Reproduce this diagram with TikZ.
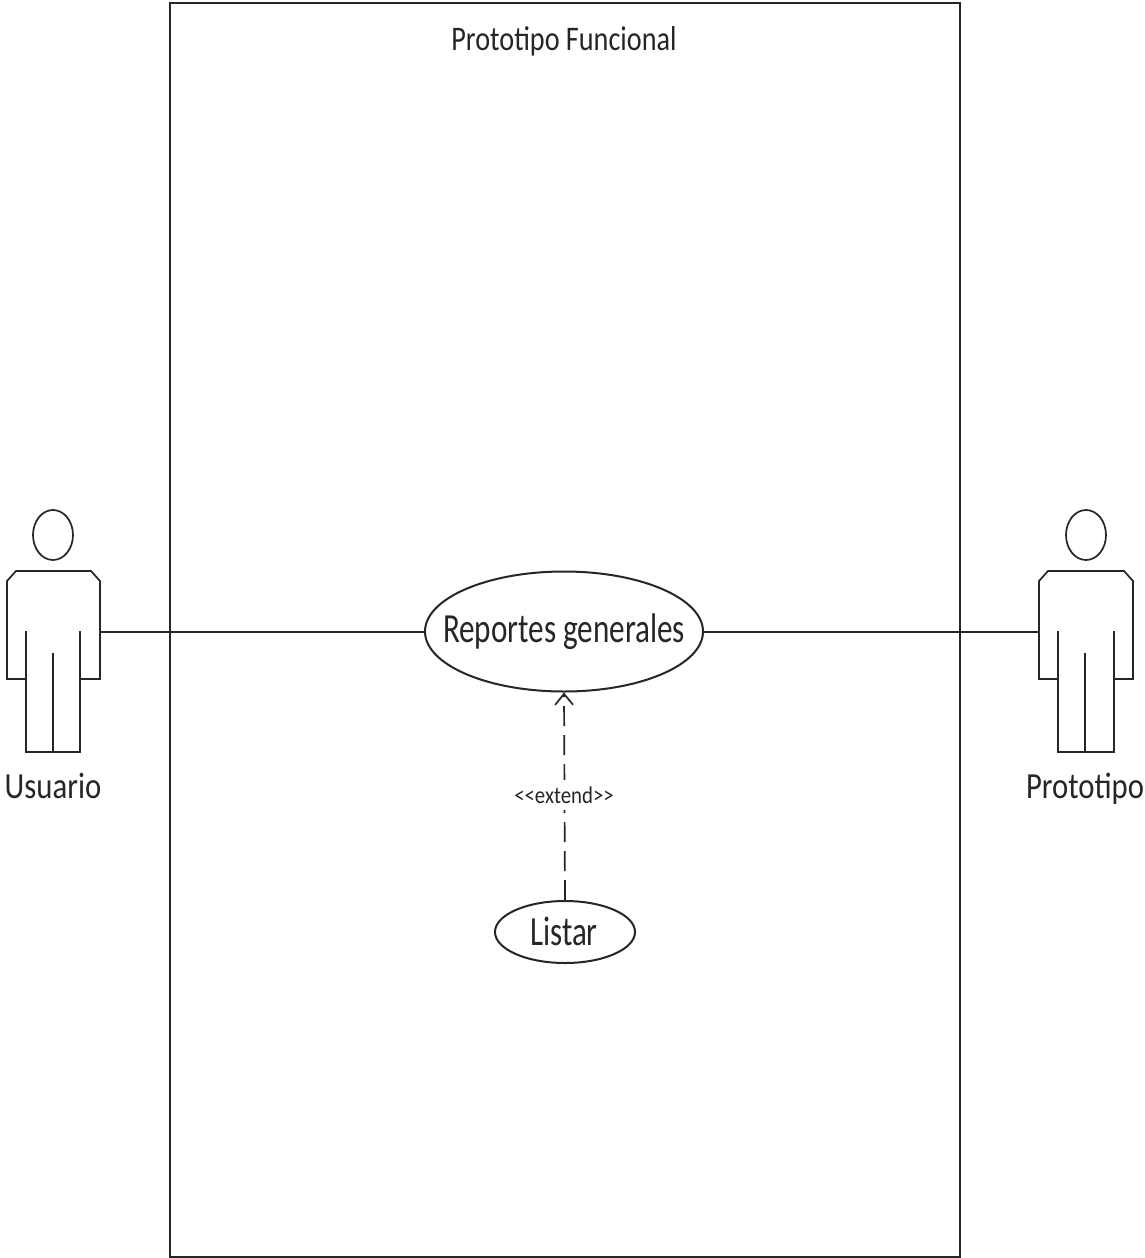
\documentclass[tikz,border=0pt]{standalone}
\usepackage{fontspec}
\setmainfont{Carlito}
\usetikzlibrary{shapes.geometric,arrows.meta}
\newcommand{\stxt}[3]{\scalebox{#1}[#2]{#3}}
\tikzset{
  x=1pt,y=-1pt,
  ln/.style={draw=black!85,line width=2pt},
  thinln/.style={draw=black!85,line width=1.7pt},
  usecase/.style={ellipse,ln,fill=white,inner sep=0pt},
  lbl/.style={inner sep=0pt,text=black!85},
  pics/actor/.style args={#1/#2/#3/#4/#5/#6/#7/#8}{code={
    % #1 head x, #2 centre x, #3 left, #4 left chamfer, #5 right chamfer, #6 right, #7 left leg, #8 right leg
    \draw[thinln] (#1,535) ellipse [x radius=20,y radius=25];
    \draw[thinln,line join=miter] (#7,631) -- (#7,752) -- (#8,752) -- (#8,631);
    \draw[thinln] (#2,653) -- (#2,752);
    \draw[thinln,line join=miter] (#7,679) -- (#3,679) -- (#3,581) -- (#4,571) -- (#5,571) -- (#6,581) -- (#6,679) -- (#8,679);
  }}
}
\begin{document}
\begin{tikzpicture}
\useasboundingbox (0,0) rectangle (1144,1258);
\fill[white] (0,0) rectangle (1144,1258);
\node[draw=black!85,line width=2pt,minimum width=790pt,minimum height=1254.5pt,inner sep=0pt,anchor=north west] (system) at (169,1.5) {};
\node[lbl,anchor=base] (systitle) at (564,50.5) {\stxt{0.94}{1.15}{\fontsize{30}{34}\selectfont Prototipo Funcional}};
\pic {actor={53/53/7/16/91/100/26/80}};
\pic {actor={1086/1085/1039/1048/1124/1133/1058/1114}};
\coordinate (usuarioport) at (100,631.5);
\coordinate (prototipoport) at (1039,631.5);
\node[lbl,anchor=base] (usuario) at (53,798) {\stxt{0.96}{1.15}{\fontsize{32}{36}\selectfont Usuario}};
\node[lbl,anchor=base] (prototipo) at (1085,798) {\stxt{0.96}{1.15}{\fontsize{32}{36}\selectfont Prototipo}};
\node[usecase,minimum width=278pt,minimum height=120pt] (reportes) at (564,631.5) {};
\node[lbl,anchor=base] (reportestext) at (564,642) {\stxt{0.865}{1.15}{\fontsize{36}{40}\selectfont Reportes generales}};
\node[usecase,minimum width=140pt,minimum height=62pt] (listar) at (565,932) {};
\node[lbl,anchor=base] (listartext) at (564,945) {\stxt{0.86}{1.15}{\fontsize{36}{40}\selectfont Listar}};
\draw[thinln,dash pattern=on 20pt off 9pt,-{Straight Barb[length=11pt,width=18pt,line width=1.7pt]}] (listar.north) -- (reportes.south);
\draw[ln] (usuarioport) -- (reportes.west);
\draw[ln] (reportes.east) -- (prototipoport);
\node[lbl,fill=white,minimum width=104pt,minimum height=30pt] (extend) at (564,795) {\stxt{1.04}{1.2}{\fontsize{20}{24}\selectfont <{}<extend>{}>}};
\end{tikzpicture}
\end{document}
